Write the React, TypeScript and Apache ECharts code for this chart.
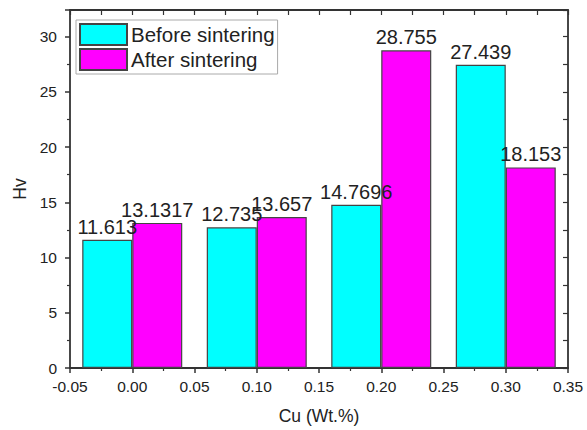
import React, { useEffect, useRef } from "react";
import * as echarts from "echarts";

const cuContent = [0, 0.1, 0.2, 0.3];
const beforeValues = [11.613, 12.735, 14.7696, 27.439];
const afterValues = [13.1317, 13.657, 28.755, 18.153];
const seriesNames = ["Before sintering", "After sintering"];

const FONT = 'Arial, "Liberation Sans", sans-serif';
const TXT = "#222";
const AX = "#333";

export default function App() {
  const ref = useRef<HTMLDivElement>(null);
  useEffect(() => {
    document.body.style.margin = "0";
    if (!ref.current) return;
    const chart = echarts.init(ref.current, undefined, { renderer: "svg" });
    const label = {
      show: true,
      position: "top" as const,
      distance: 3,
      fontSize: 20,
      color: TXT,
      fontFamily: FONT,
      formatter: (p: any) => String(p.value[1]),
    };
    const axisLine = { show: true, onZero: false, lineStyle: { color: AX, width: 1.8 } };
    chart.setOption({
      animation: false,
      textStyle: { fontFamily: FONT },
      grid: { left: 70, right: 19, top: 10, bottom: 57 },
      legend: {
        left: 76,
        top: 20,
        orient: "vertical",
        itemWidth: 47,
        itemHeight: 21,
        itemGap: 2,
        padding: 3,
        borderColor: "#aaa",
        borderWidth: 1,
        backgroundColor: "#fff",
        icon: "rect",
        textStyle: { fontSize: 20.5, color: TXT, fontFamily: FONT, padding: [0, 0, 0, -1] },
        data: seriesNames,
      },
      xAxis: [
        {
          type: "value",
          min: -0.05,
          max: 0.35,
          interval: 0.05,
          name: "Cu (Wt.%)",
          nameLocation: "middle",
          nameGap: 39,
          nameTextStyle: { fontSize: 17.5, color: TXT, fontFamily: FONT },
          axisLine,
          axisTick: { show: true, length: 5, lineStyle: { color: AX, width: 1.5 } },
          minorTick: { show: true, splitNumber: 2, length: 3, lineStyle: { color: AX, width: 1.2 } },
          axisLabel: {
            fontSize: 15.5,
            color: TXT,
            margin: 10,
            fontFamily: FONT,
            formatter: (v: number) => v.toFixed(2),
          },
          splitLine: { show: false },
        },
        {
          type: "value",
          position: "top",
          min: -0.05,
          max: 0.35,
          interval: 0.05,
          axisLine,
          axisTick: { show: true, inside: true, length: 5, lineStyle: { color: AX, width: 1.2 } },
          minorTick: { show: true, splitNumber: 2, length: 5, lineStyle: { color: AX, width: 1.2 } },
          axisLabel: { show: false },
          splitLine: { show: false },
        },
      ],
      yAxis: [
        {
          type: "value",
          min: 0,
          max: 32.4,
          interval: 5,
          name: "Hv",
          nameLocation: "middle",
          nameGap: 38,
          nameTextStyle: { fontSize: 17.5, color: TXT, fontFamily: FONT },
          axisLine,
          axisTick: { show: true, length: 5, lineStyle: { color: AX, width: 1.5 } },
          minorTick: { show: true, splitNumber: 2, length: 3, lineStyle: { color: AX, width: 1.2 } },
          axisLabel: { fontSize: 15.5, color: TXT, margin: 13, fontFamily: FONT, showMaxLabel: false },
          splitLine: { show: false },
        },
        {
          type: "value",
          position: "right",
          min: 0,
          max: 32.4,
          interval: 5,
          axisLine,
          axisTick: { show: true, inside: true, length: 5, lineStyle: { color: AX, width: 1.2 } },
          minorTick: { show: true, splitNumber: 2, length: 5, lineStyle: { color: AX, width: 1.2 } },
          axisLabel: { show: false },
          splitLine: { show: false },
        },
      ],
      series: [
        {
          name: seriesNames[0],
          type: "bar",
          xAxisIndex: 0,
          yAxisIndex: 0,
          barWidth: 50,
          barGap: "0%",
          itemStyle: { color: "#00ffff", borderColor: "#444", borderWidth: 1.2 },
          label,
          data: cuContent.map((x, i) => [x, beforeValues[i]]),
        },
        {
          name: seriesNames[1],
          type: "bar",
          xAxisIndex: 0,
          yAxisIndex: 0,
          barWidth: 50,
          barGap: "0%",
          itemStyle: { color: "#ff00ff", borderColor: "#444", borderWidth: 1.2 },
          label,
          data: cuContent.map((x, i) => [x, afterValues[i]]),
        },
      ],
    });
    return () => chart.dispose();
  }, []);
  return <div ref={ref} style={{ width: 587, height: 430 }} />;
}
